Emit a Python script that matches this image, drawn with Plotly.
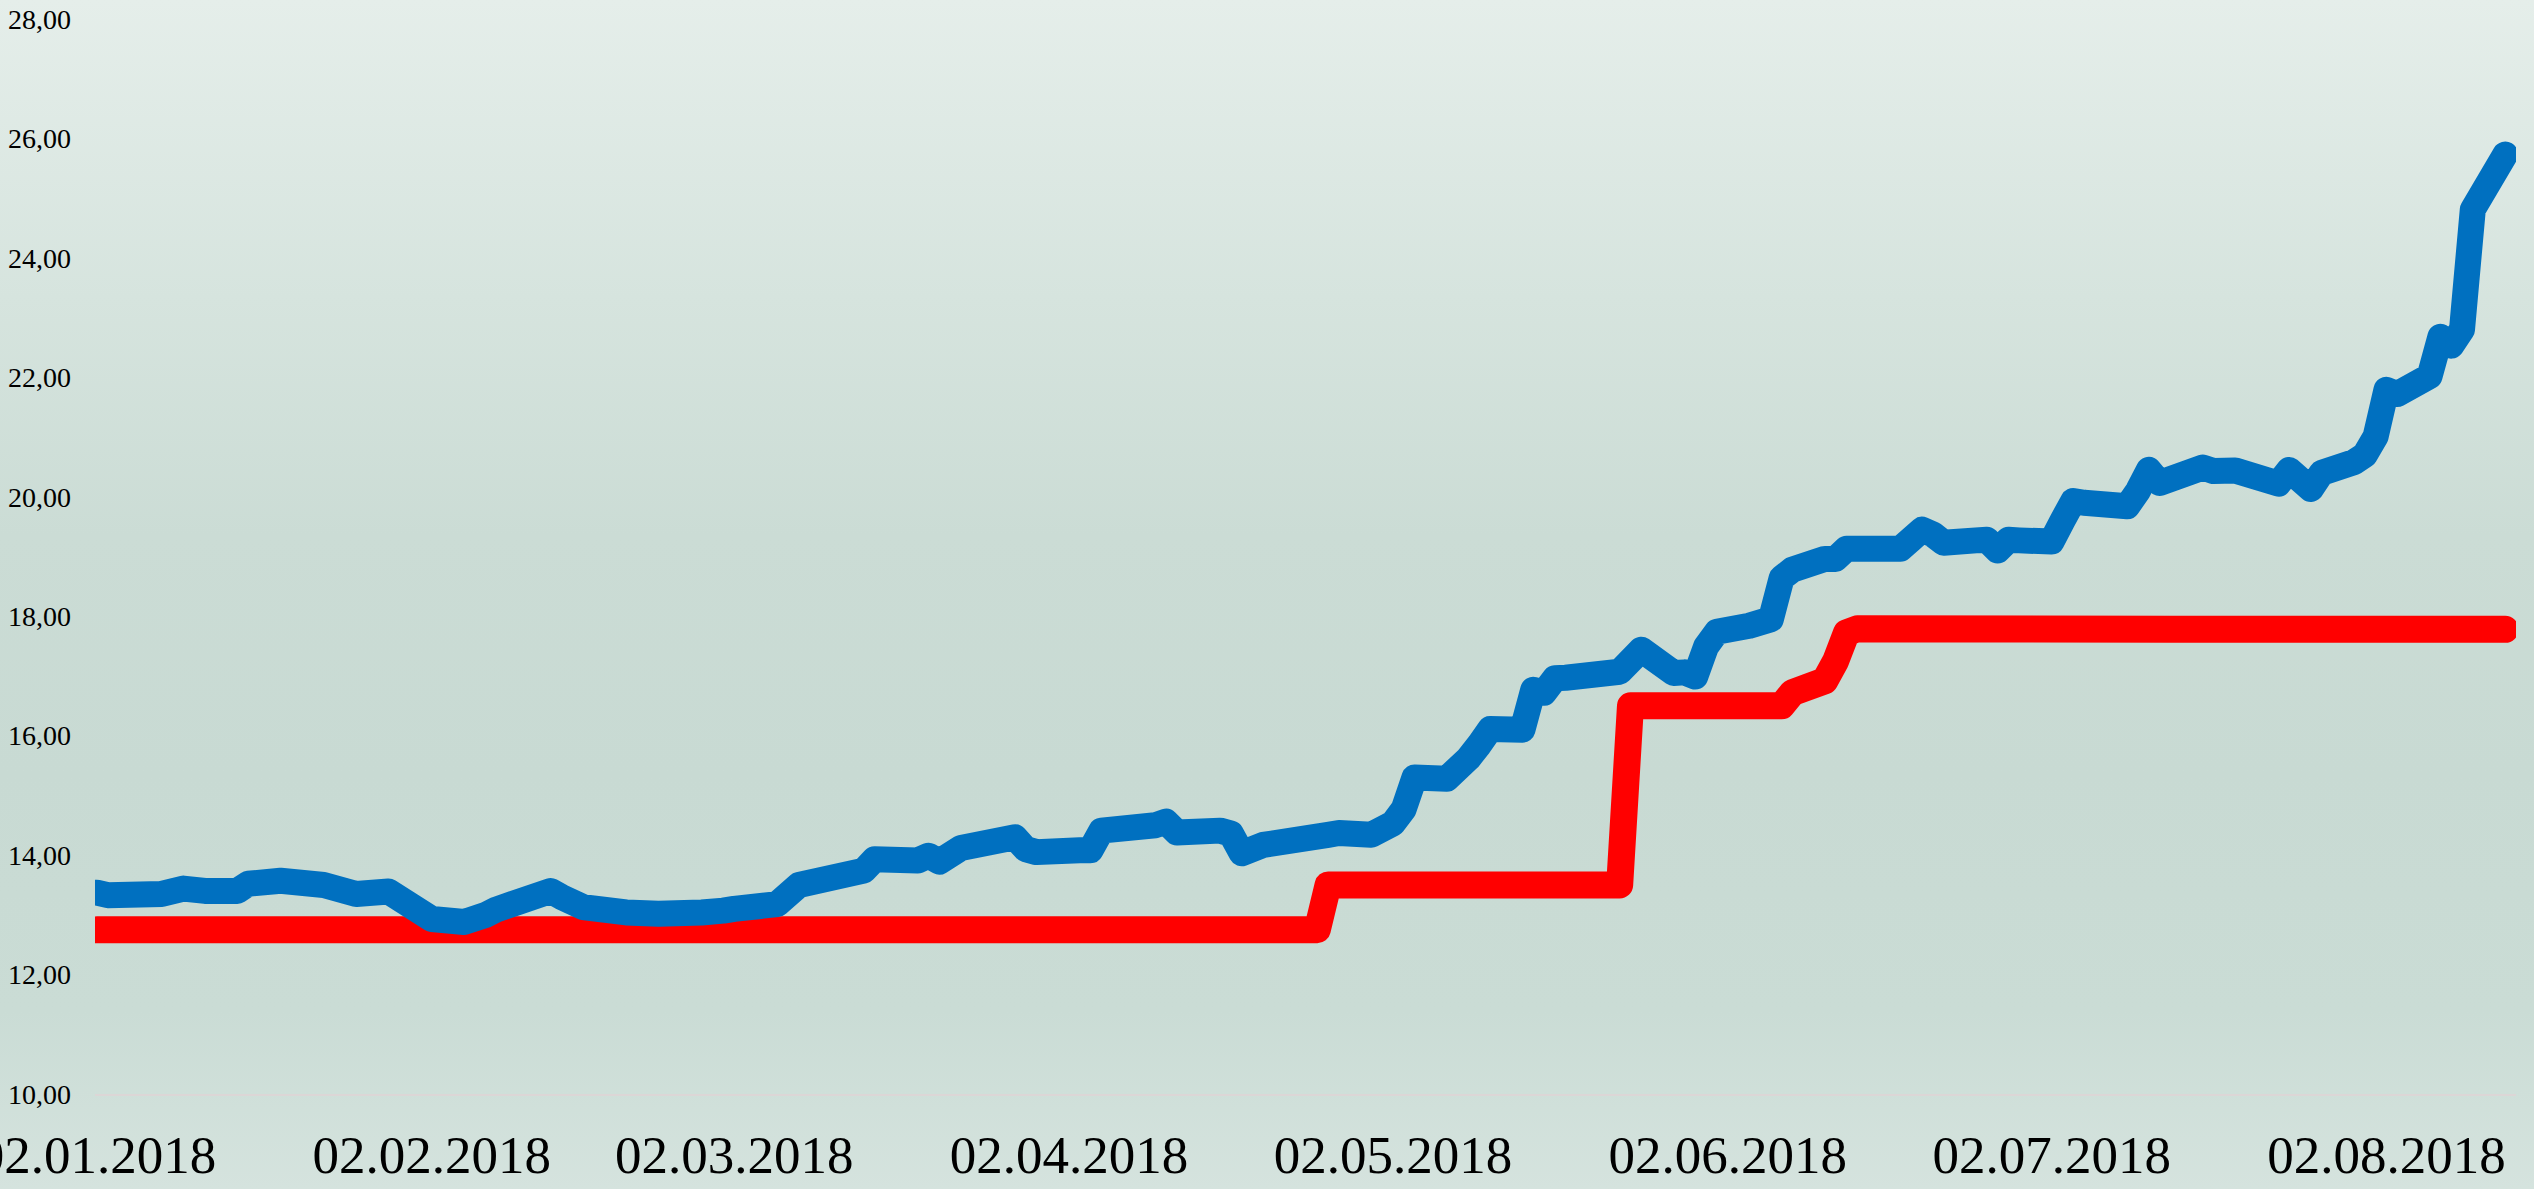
import plotly.graph_objects as go

# ---- data ----
blue_dates = [
    "2018-01-02", "2018-01-03", "2018-01-08", "2018-01-10", "2018-01-12", "2018-01-15",
    "2018-01-16", "2018-01-18", "2018-01-19", "2018-01-23", "2018-01-24", "2018-01-25",
    "2018-01-26", "2018-01-29", "2018-01-30", "2018-02-01", "2018-02-02", "2018-02-05",
    "2018-02-06", "2018-02-07", "2018-02-08", "2018-02-09", "2018-02-12", "2018-02-13",
    "2018-02-14", "2018-02-16", "2018-02-20", "2018-02-22", "2018-02-23", "2018-02-27",
    "2018-02-28", "2018-03-01", "2018-03-02", "2018-03-05", "2018-03-06", "2018-03-08",
    "2018-03-09", "2018-03-12", "2018-03-13", "2018-03-14", "2018-03-15", "2018-03-16",
    "2018-03-19", "2018-03-20", "2018-03-21", "2018-03-23", "2018-03-27", "2018-03-28",
    "2018-03-29", "2018-03-30", "2018-04-03", "2018-04-04", "2018-04-05", "2018-04-06",
    "2018-04-09", "2018-04-10", "2018-04-11", "2018-04-12", "2018-04-16", "2018-04-17",
    "2018-04-18", "2018-04-19", "2018-04-20", "2018-04-26", "2018-04-27", "2018-04-30",
    "2018-05-02", "2018-05-03", "2018-05-04", "2018-05-07", "2018-05-08", "2018-05-09",
    "2018-05-10", "2018-05-11", "2018-05-14", "2018-05-15", "2018-05-16", "2018-05-17",
    "2018-05-18", "2018-05-21", "2018-05-22", "2018-05-23", "2018-05-25", "2018-05-28",
    "2018-05-29", "2018-05-30", "2018-05-31", "2018-06-01", "2018-06-04", "2018-06-05",
    "2018-06-06", "2018-06-07", "2018-06-08", "2018-06-11", "2018-06-12", "2018-06-13",
    "2018-06-14", "2018-06-15", "2018-06-18", "2018-06-19", "2018-06-20", "2018-06-21",
    "2018-06-22", "2018-06-25", "2018-06-26", "2018-06-27", "2018-06-28", "2018-06-29",
    "2018-07-02", "2018-07-03", "2018-07-04", "2018-07-05", "2018-07-09", "2018-07-10",
    "2018-07-11", "2018-07-12", "2018-07-13", "2018-07-16", "2018-07-17", "2018-07-18",
    "2018-07-19", "2018-07-23", "2018-07-24", "2018-07-26", "2018-07-27", "2018-07-30",
    "2018-07-31", "2018-08-01", "2018-08-02", "2018-08-03", "2018-08-06", "2018-08-07",
    "2018-08-08", "2018-08-09", "2018-08-10", "2018-08-13",
]
blue_values = [
    13.37, 13.33, 13.35, 13.44, 13.40, 13.40,
    13.52, 13.54, 13.57, 13.50, 13.48, 13.36,
    13.35, 13.39, 13.30, 13.05, 12.93, 12.88,
    13.00, 13.00, 13.09, 13.15, 13.27, 13.40,
    13.30, 13.13, 13.04, 13.08, 13.02, 13.04,
    13.02, 13.07, 13.10, 13.21, 13.18, 13.50,
    13.55, 13.69, 13.76, 13.74, 13.93, 13.91,
    13.91, 13.99, 13.89, 14.12, 14.21, 14.30,
    14.10, 14.05, 14.08, 14.08, 14.41, 14.41,
    14.47, 14.50, 14.56, 14.38, 14.41, 14.36,
    14.03, 14.16, 14.17, 14.34, 14.37, 14.34,
    14.53, 14.77, 15.30, 15.28, 15.54, 15.62,
    15.85, 16.11, 16.10, 16.77, 16.72, 16.96,
    16.97, 17.07, 17.07, 17.07, 17.44, 17.05,
    17.06, 16.99, 17.49, 17.74, 17.84, 17.95,
    17.95, 18.64, 18.78, 18.96, 18.96, 19.13,
    19.13, 19.13, 19.13, 19.29, 19.45, 19.37,
    19.23, 19.27, 19.28, 19.10, 19.28, 19.27,
    19.25, 19.60, 19.93, 19.90, 19.84, 20.10,
    20.45, 20.23, 20.30, 20.49, 20.43, 20.46,
    20.44, 20.22, 20.45, 20.13, 20.40, 20.58,
    20.70, 21.01, 21.79, 21.72, 22.02, 22.68,
    22.53, 22.80, 24.81, 25.73,
]

red_dates = [
    "2018-01-02", "2018-04-25", "2018-04-26", "2018-05-23", "2018-05-24", "2018-06-07",
    "2018-06-08", "2018-06-11", "2018-06-12", "2018-06-13", "2018-06-14", "2018-06-18",
    "2018-06-19", "2018-06-20", "2018-06-25", "2018-06-29", "2018-07-02", "2018-07-12",
    "2018-07-13", "2018-08-13",
]
red_values = [
    12.75, 12.75, 13.50, 13.50, 16.50, 16.50,
    16.72, 16.92, 17.25, 17.72, 17.79, 17.80,
    17.77, 17.78, 17.78, 17.80, 17.78, 17.80,
    17.78, 17.78,
]

tick_dates = ["2018-01-02", "2018-02-02", "2018-03-02", "2018-04-02",
              "2018-05-02", "2018-06-02", "2018-07-02", "2018-08-02"]
tick_labels = ["02.01.2018", "02.02.2018", "02.03.2018", "02.04.2018",
               "02.05.2018", "02.06.2018", "02.07.2018", "02.08.2018"]
y_ticks = [10, 12, 14, 16, 18, 20, 22, 24, 26, 28]

FONT = "Liberation Serif, Times New Roman, serif"

fig = go.Figure()
fig.add_trace(go.Scatter(x=red_dates, y=red_values, mode="lines",
                         line=dict(color="#FF0000", width=27), hoverinfo="skip",
                         showlegend=False))
fig.add_trace(go.Scatter(x=blue_dates, y=blue_values, mode="lines",
                         line=dict(color="#0070C0", width=26), hoverinfo="skip",
                         showlegend=False))

fig.update_layout(
    width=2534, height=1189,
    margin=dict(l=95, r=18, t=19, b=95),
    paper_bgcolor="rgba(0,0,0,0)",
    plot_bgcolor="rgba(0,0,0,0)",
    separators=",.",
    showlegend=False,
    font=dict(family=FONT, color="#000000"),
)
fig.update_xaxes(
    type="date",
    range=["2018-01-01 19:36", "2018-08-14 00:00"],
    tickvals=tick_dates, ticktext=tick_labels,
    tickfont=dict(family=FONT, size=53, color="#000000"),
    showgrid=False, zeroline=False,
    showline=True, linecolor="#dcd6d6", linewidth=2,
    ticks="", ticklabelstandoff=13, ticklabeloverflow="allow",
    automargin=False,
)
fig.update_yaxes(
    range=[10, 28], tickvals=y_ticks, tickformat=".2f",
    tickfont=dict(family=FONT, size=28, color="#000000"),
    showgrid=False, zeroline=False, showline=False,
    ticks="", ticklabelstandoff=23, automargin=False,
)

post = """
document.body.style.margin='0';
var gd=document.querySelector('.plotly-graph-div');
gd.style.background='linear-gradient(to bottom, #e5eeea 0%, #d6e4de 25%, #cbdcd5 45%, #c8dad3 65%, #cadcd5 85%, #d5e3de 100%)';
document.querySelectorAll('.scatterlayer .js-line').forEach(function(p){
  p.style.strokeLinejoin='round'; p.style.strokeLinecap='round';
});
"""
fig.write_html("out.html", post_script=post, config={"displayModeBar": False})
